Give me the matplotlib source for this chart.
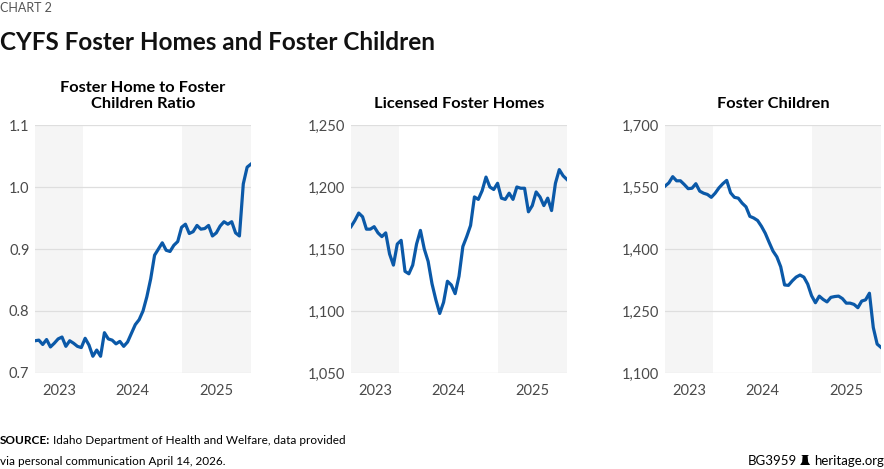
import matplotlib
matplotlib.use('Agg')
import matplotlib.pyplot as plt
import matplotlib.ticker as ticker
from matplotlib.patches import Polygon
import numpy as np
import pandas as pd

# ---------------------------------------------------------------------------
# Data (roughly biweekly)
# ---------------------------------------------------------------------------
START = '2023-07-05'
END = '2025-09-14'

ratio = [0.752, 0.753, 0.746, 0.754, 0.742, 0.748, 0.755, 0.758, 0.743, 0.752,
         0.748, 0.743, 0.741, 0.756, 0.745, 0.727, 0.737, 0.727, 0.765, 0.755,
         0.753, 0.747, 0.751, 0.743, 0.750, 0.764, 0.778, 0.786, 0.800, 0.823,
         0.852, 0.890, 0.900, 0.910, 0.898, 0.896, 0.906, 0.912, 0.935, 0.940,
         0.925, 0.928, 0.938, 0.932, 0.933, 0.938, 0.921, 0.926, 0.937, 0.944,
         0.940, 0.944, 0.926, 0.921, 1.005, 1.032, 1.037]

homes = [1168, 1173, 1179, 1176, 1166, 1166, 1168, 1163, 1160, 1163,
         1146, 1137, 1154, 1157, 1132, 1130, 1137, 1154, 1165, 1150,
         1140, 1122, 1109, 1098, 1107, 1124, 1121, 1114, 1128, 1152,
         1160, 1169, 1192, 1190, 1197, 1208, 1200, 1198, 1203, 1191,
         1190, 1195, 1190, 1200, 1199, 1199, 1180, 1185, 1196, 1192,
         1185, 1191, 1181, 1203, 1214, 1209, 1206]

children = [1552, 1560, 1575, 1565, 1565, 1556, 1546, 1547, 1558, 1540,
            1535, 1532, 1525, 1535, 1548, 1558, 1566, 1536, 1525, 1523,
            1511, 1502, 1479, 1475, 1469, 1455, 1438, 1416, 1395, 1381,
            1357, 1313, 1312, 1323, 1332, 1337, 1332, 1315, 1287, 1270,
            1286, 1278, 1272, 1283, 1285, 1286, 1280, 1269, 1269, 1266,
            1258, 1274, 1277, 1293, 1210, 1170, 1162]

panel_titles = ['Foster Home to Foster\nChildren Ratio',
                'Licensed Foster Homes',
                'Foster Children']
y_ticks = [[0.7, 0.8, 0.9, 1.0, 1.1],
           [1050, 1100, 1150, 1200, 1250],
           [1100, 1250, 1400, 1550, 1700]]
year_labels = ['2023', '2024', '2025']

# ---------------------------------------------------------------------------
# Style
# ---------------------------------------------------------------------------
LINE = '#0b59a8'
SHADE = '#f5f5f5'
GRID = '#dedede'
TICK = '#4a4a4a'

plt.rcParams.update({
    'font.family': ['Lato', 'DejaVu Sans'],
    'font.size': 10.5,
})

dates = pd.date_range(START, END, periods=len(ratio))
x0, x1 = pd.Timestamp(START), pd.Timestamp(END)
y2024, y2025 = pd.Timestamp('2024-01-01'), pd.Timestamp('2025-01-01')
label_pos = [x0 + (y2024 - x0) / 2, pd.Timestamp('2024-07-02'), y2025 + (x1 - y2025) / 2]

fig = plt.figure(figsize=(8.84, 4.69), dpi=100)
W, H = 884, 469
lefts = [35, 351, 665]
series = [ratio, homes, children]
fmts = [lambda v, _: f'{v:.1f}', lambda v, _: f'{int(v):,}', lambda v, _: f'{int(v):,}']

for i in range(3):
    ax = fig.add_axes([lefts[i] / W, 1 - 373 / H, 216 / W, 248 / H])
    ax.axvspan(x0, y2024, color=SHADE, lw=0, zorder=0)
    ax.axvspan(y2025, x1, color=SHADE, lw=0, zorder=0)
    ax.plot(dates, series[i], color=LINE, lw=2.3, solid_joinstyle='round', zorder=3)
    ax.set_xlim(x0, x1)
    ax.set_ylim(y_ticks[i][0], y_ticks[i][-1])
    ax.set_yticks(y_ticks[i])
    ax.yaxis.set_major_formatter(ticker.FuncFormatter(fmts[i]))
    ax.grid(axis='y', color=GRID, lw=0.9, zorder=1)
    ax.set_xticks(label_pos)
    ax.set_xticklabels(year_labels)
    ax.tick_params(length=0, colors=TICK, labelsize=10.5)
    ax.tick_params(axis='x', pad=8)
    ax.tick_params(axis='y', pad=4)
    for s in ax.spines.values():
        s.set_visible(False)
    ax.set_facecolor('none')
    fig.text((lefts[i] + 108) / W, 1 - 111 / H, panel_titles[i],
             ha='center', va='bottom', fontsize=11.8, fontweight='bold',
             linespacing=1.2)

# --- Headers ---
fig.text(0.0, 1 - 2 / H, 'CHART 2', ha='left', va='top', fontsize=9, color='#555555')
fig.text(0.0, 1 - 50 / H, 'CYFS Foster Homes and Foster Children', ha='left',
         va='baseline', fontsize=17.5, fontweight='bold', color='#111111')

# --- Footer ---
fig.canvas.draw()
renderer = fig.canvas.get_renderer()

src = fig.text(0.0, 1 - 444 / H, 'SOURCE:', ha='left', va='baseline',
               fontsize=8.5, fontweight='bold')
ext = src.get_window_extent(renderer)
fig.text((ext.x1 + 3) / W, 1 - 444 / H,
         'Idaho Department of Health and Welfare, data provided',
         ha='left', va='baseline', fontsize=8.5)
fig.text(0.0, 1 - 465 / H, 'via personal communication April 14, 2026.',
         ha='left', va='baseline', fontsize=8.5)

site = fig.text(1.0, 1 - 465 / H, 'heritage.org', ha='right', va='baseline',
                fontsize=9.5)
sx = site.get_window_extent(renderer).x0
bx = sx - 14
fig.text((bx - 3) / W, 1 - 465 / H, 'BG3959', ha='right', va='baseline',
         fontsize=9.5)

# small bell mark between the two
bell_px = [[bx, 465], [bx + 10, 465], [bx + 8, 462], [bx + 7.5, 456], [bx + 9, 455],
           [bx + 1, 455], [bx + 2.5, 456], [bx + 2, 462]]
bell = Polygon([[px, H - py] for px, py in bell_px], closed=True, transform=None,
               facecolor='black', edgecolor='none')
fig.patches.append(bell)

fig.savefig('out.png', dpi=100)
